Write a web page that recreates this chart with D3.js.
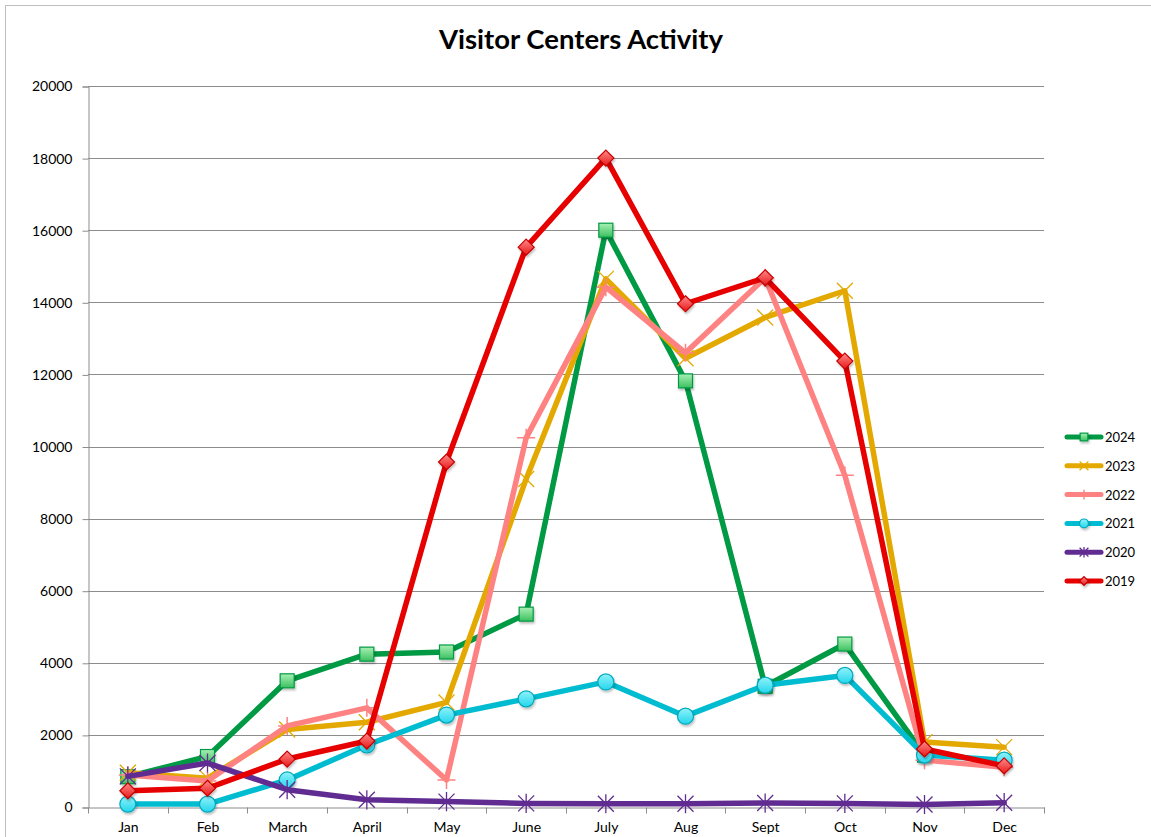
<!DOCTYPE html>
<html>
<head>
<meta charset="utf-8">
<script src="https://cdn.jsdelivr.net/npm/d3@7"></script>
<style>
  body { margin: 0; background: #fff; }
  text { font-family: Lato, "Open Sans", sans-serif; fill: #000; }
</style>
</head>
<body>
<svg id="chart" width="1151" height="837"></svg>
<script>
var months = ["Jan", "Feb", "March", "April", "May", "June", "July", "Aug", "Sept", "Oct", "Nov", "Dec"];
var yTicks = [0, 2000, 4000, 6000, 8000, 10000, 12000, 14000, 16000, 18000, 20000];

var v2024 = [840, 1400, 3500, 4240, 4300, 5350, 16000, 11820, 3350, 4520, 1440, null];
var v2023 = [950, 800, 2150, 2350, 2900, 9100, 14650, 12450, 13580, 14320, 1800, 1660];
var v2022 = [890, 720, 2250, 2750, 750, 10240, 14420, 12600, 14680, 9200, 1300, 1100];
var v2021 = [80, 80, 750, 1720, 2550, 3000, 3470, 2520, 3380, 3650, 1440, 1300];
var v2020 = [850, 1220, 480, 200, 150, 100, 90, 90, 110, 100, 70, 120];
var v2019 = [450, 520, 1330, 1830, 9570, 15530, 18000, 13960, 14680, 12370, 1610, 1140];

var series = [
  { name: "2024", values: v2024, color: "#009944", marker: "square", fill: ["#a8f0b4", "#3cc060"] },
  { name: "2023", values: v2023, color: "#e3a900", marker: "x" },
  { name: "2022", values: v2022, color: "#ff8282", marker: "plus" },
  { name: "2021", values: v2021, color: "#00bcd0", marker: "circle", fill: ["#8ff2fb", "#24d6ec"] },
  { name: "2020", values: v2020, color: "#612c91", marker: "star" },
  { name: "2019", values: v2019, color: "#e60000", marker: "diamond", fill: ["#ff8a8a", "#e81818"] }
];

var svg = d3.select("#chart");

var x = d3.scaleBand().domain(months).range([88, 1044]).padding(0);
var y = d3.scaleLinear().domain([0, 20000]).range([807, 86]);

// outer border
svg.append("rect").attr("x", 5.5).attr("y", 5.5).attr("width", 1200).attr("height", 900)
  .attr("fill", "none").attr("stroke", "#bfbfbf");

var defs = svg.append("defs");
series.forEach(function(s) {
  if (!s.fill) return;
  var gr = defs.append("linearGradient").attr("id", "g" + s.name)
    .attr("x1", 0).attr("y1", 0).attr("x2", 0).attr("y2", 1);
  gr.append("stop").attr("offset", "0%").attr("stop-color", s.fill[0]);
  gr.append("stop").attr("offset", "100%").attr("stop-color", s.fill[1]);
});
var sh = defs.append("filter").attr("id", "shadow").attr("x", "-50%").attr("y", "-50%").attr("width", "200%").attr("height", "200%");
sh.append("feDropShadow").attr("dx", 1).attr("dy", 2).attr("stdDeviation", 1.2).attr("flood-color", "#000").attr("flood-opacity", 0.25);

// title
svg.append("text").attr("x", 581).attr("y", 49).attr("text-anchor", "middle")
  .style("font-size", "27.5px").style("font-weight", "bold").text("Visitor Centers Activity");

// gridlines
svg.append("g").selectAll("line").data(yTicks.slice(1)).enter().append("line")
  .attr("x1", 88).attr("x2", 1044)
  .attr("y1", function(d) { return Math.round(y(d)) + 0.5; })
  .attr("y2", function(d) { return Math.round(y(d)) + 0.5; })
  .attr("stroke", "#8c8c8c").attr("stroke-width", 1);

// y axis
var yAxis = svg.append("g").attr("transform", "translate(88.5,0.5)")
  .call(d3.axisLeft(y).tickValues(yTicks).tickSize(6).tickPadding(10).tickFormat(d3.format("d")));
yAxis.select(".domain").attr("stroke", "#8c8c8c");
yAxis.selectAll(".tick line").attr("stroke", "#8c8c8c");
yAxis.selectAll("text").style("font-size", "14px").style("font-family", "Lato, sans-serif");

// x axis
var xAxis = svg.append("g").attr("transform", "translate(0.5," + (Math.round(y(0)) + 0.5) + ")")
  .call(d3.axisBottom(x).tickSize(0).tickPadding(15));
xAxis.select(".domain").attr("stroke", "#8c8c8c");
xAxis.selectAll("text").style("font-size", "14px").style("font-family", "Lato, sans-serif");
xAxis.selectAll(".bound").data(months.map(function(m) { return x(m); }).concat([x.range()[1]]))
  .enter().append("line").attr("class", "bound")
  .attr("x1", function(d) { return Math.round(d); }).attr("x2", function(d) { return Math.round(d); })
  .attr("y1", 0).attr("y2", 6).attr("stroke", "#8c8c8c");

function cx(i) { return x(months[i]) + x.bandwidth() / 2; }

function drawMarker(g, s, px, py, scale) {
  var k = scale || 1;
  if (s.marker === "square") {
    g.append("rect").attr("x", px - 7 * k).attr("y", py - 7 * k).attr("width", 14 * k).attr("height", 14 * k)
      .attr("fill", "url(#g" + s.name + ")").attr("stroke", s.color).attr("stroke-width", 1.2)
      .attr("filter", "url(#shadow)");
  } else if (s.marker === "circle") {
    g.append("circle").attr("cx", px).attr("cy", py).attr("r", 8 * k)
      .attr("fill", "url(#g" + s.name + ")").attr("stroke", "#00a8bc").attr("stroke-width", 1.2)
      .attr("filter", "url(#shadow)");
  } else if (s.marker === "diamond") {
    var r = 8 * k;
    g.append("path").attr("d", "M" + px + "," + (py - r) + "L" + (px + r) + "," + py + "L" + px + "," + (py + r) + "L" + (px - r) + "," + py + "Z")
      .attr("fill", "url(#g" + s.name + ")").attr("stroke", "#c80000").attr("stroke-width", 1.2)
      .attr("filter", "url(#shadow)");
  } else if (s.marker === "x") {
    var a = 8 * k;
    g.append("path").attr("d", "M" + (px - a) + "," + (py - a) + "L" + (px + a) + "," + (py + a) + "M" + (px - a) + "," + (py + a) + "L" + (px + a) + "," + (py - a))
      .attr("stroke", s.color).attr("stroke-width", 1.3).attr("fill", "none");
  } else if (s.marker === "plus") {
    var b = 9 * k;
    g.append("path").attr("d", "M" + (px - b) + "," + py + "L" + (px + b) + "," + py + "M" + px + "," + (py - b) + "L" + px + "," + (py + b))
      .attr("stroke", s.color).attr("stroke-width", 1.5).attr("fill", "none");
  } else if (s.marker === "star") {
    var c = 8 * k;
    g.append("path").attr("d", "M" + (px - c) + "," + (py - c) + "L" + (px + c) + "," + (py + c) + "M" + (px - c) + "," + (py + c) + "L" + (px + c) + "," + (py - c) + "M" + px + "," + (py - c * 1.2) + "L" + px + "," + (py + c * 1.2))
      .attr("stroke", s.color).attr("stroke-width", 1.3).attr("fill", "none");
  }
}

var line = d3.line()
  .defined(function(d) { return d != null; })
  .x(function(d, i) { return cx(i); })
  .y(function(d) { return y(d); });

series.forEach(function(s) {
  var g = svg.append("g");
  g.append("path").datum(s.values).attr("d", line)
    .attr("fill", "none").attr("stroke", s.color).attr("stroke-width", 5.5)
    .attr("stroke-linejoin", "round").attr("stroke-linecap", "round");
  s.values.forEach(function(v, i) {
    if (v == null) return;
    drawMarker(g, s, cx(i), y(v));
  });
});

// legend
var legend = svg.append("g");
series.forEach(function(s, i) {
  var ly = 437 + i * 28.8;
  var lg = legend.append("g");
  lg.append("line").attr("x1", 1067).attr("x2", 1101).attr("y1", ly).attr("y2", ly)
    .attr("stroke", s.color).attr("stroke-width", 5).attr("stroke-linecap", "round");
  drawMarker(lg, s, 1084, ly, 0.55);
  lg.append("text").attr("x", 1105).attr("y", ly + 5).style("font-size", "13px").text(s.name);
});
</script>
</body>
</html>
